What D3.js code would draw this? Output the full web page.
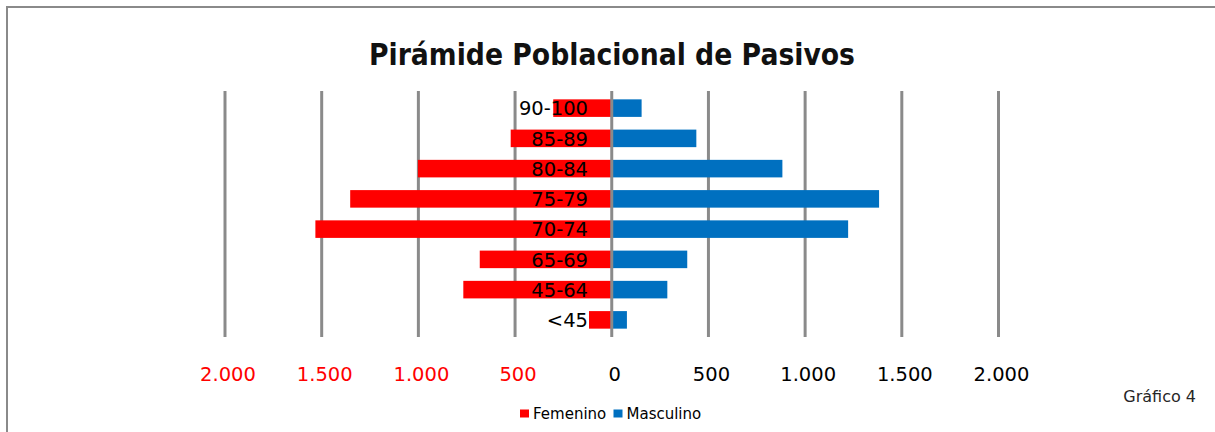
<!DOCTYPE html>
<html>
<head>
<meta charset="utf-8">
<script src="https://cdnjs.cloudflare.com/ajax/libs/d3/7.8.5/d3.min.js"></script>
<style>
  html, body { margin: 0; padding: 0; background: #fff; }
  svg { display: block; }
</style>
</head>
<body>
<script>
// ---- data (top to bottom) ----
const categories = ["90-100", "85-89", "80-84", "75-79", "70-74", "65-69", "45-64", "<45"];
const femenino  = [300, 520, 1000, 1350, 1530, 680, 765, 115];
const masculino = [157, 440, 885, 1385, 1225, 393, 290, 81];
const tickValues = [-2000, -1500, -1000, -500, 0, 500, 1000, 1500, 2000];
const seriesNames = ["Femenino", "Masculino"];
const seriesColors = ["#FF0000", "#0070C0"];
const titleText = "Pirámide Poblacional de Pasivos";
const noteText = "Gráfico 4";

const W = 1215, H = 432;
const svg = d3.select("body").append("svg").attr("width", W).attr("height", H);

// outer frame (top/left visible)
svg.append("rect").attr("x", 7).attr("y", 7).attr("width", W + 20).attr("height", H + 20)
  .attr("fill", "#fff").attr("stroke", "#8a8a8a").attr("stroke-width", 2);

const x = d3.scaleLinear().domain([-2000, 2000]).range([224.5, 998]);
const y = d3.scaleBand().domain(categories).range([93, 335]).paddingInner(0.42).paddingOuter(0.21);

const locale = d3.formatLocale({ decimal: ",", thousands: ".", grouping: [3], currency: ["", ""] });
const fmt = locale.format(",");

// title
svg.append("text").attr("x", 612).attr("y", 65).attr("text-anchor", "middle")
  .attr("font-family", "DejaVu Sans, sans-serif").attr("font-weight", "bold")
  .attr("font-size", 30).attr("fill", "#111")
  .attr("textLength", 486).attr("lengthAdjust", "spacingAndGlyphs")
  .text(titleText);

// gridlines
const grid = svg.append("g").attr("transform", "translate(0,337)")
  .call(d3.axisBottom(x).tickValues(tickValues.filter(d => d !== 0)).tickSize(-246).tickFormat(""));
grid.select(".domain").remove();
grid.selectAll("line").attr("stroke", "#8a8a8a").attr("stroke-width", 3);

// bars
const rows = categories.map((c, i) => ({ c, f: femenino[i], m: masculino[i] }));
svg.append("g").selectAll("rect").data(rows).join("rect")
  .attr("x", d => x(-d.f)).attr("y", d => y(d.c))
  .attr("width", d => x(0) - x(-d.f)).attr("height", y.bandwidth())
  .attr("fill", seriesColors[0]);
svg.append("g").selectAll("rect").data(rows).join("rect")
  .attr("x", x(0)).attr("y", d => y(d.c))
  .attr("width", d => x(d.m) - x(0)).attr("height", y.bandwidth())
  .attr("fill", seriesColors[1]);

// zero line on top
const zero = svg.append("g").attr("transform", "translate(0,337)")
  .call(d3.axisBottom(x).tickValues([0]).tickSize(-246).tickFormat(""));
zero.select(".domain").remove();
zero.selectAll("line").attr("stroke", "#8a8a8a").attr("stroke-width", 3);

// category labels
svg.append("g").selectAll("text").data(categories).join("text")
  .attr("x", 588).attr("y", d => y(d) + y.bandwidth() / 2 + 7.3)
  .attr("text-anchor", "end")
  .attr("font-family", "DejaVu Sans, sans-serif").attr("font-size", 19.5).attr("fill", "#000")
  .text(d => d);

// tick labels
const ax = svg.append("g").attr("transform", "translate(3,366.5)")
  .call(d3.axisBottom(x).tickValues(tickValues).tickSize(0).tickPadding(0).tickFormat(d => fmt(Math.abs(d))));
ax.select(".domain").remove();
ax.selectAll("text")
  .attr("font-family", "DejaVu Sans, sans-serif").attr("font-size", 19.5)
  .attr("dy", "0.73em")
  .attr("fill", d => d < 0 ? "#FF0000" : "#000");

// legend
const lg = svg.append("g");
const legendX = [520, 613.5];
seriesNames.forEach((name, i) => {
  lg.append("rect").attr("x", legendX[i]).attr("y", 409.5).attr("width", 9).attr("height", 8).attr("fill", seriesColors[i]);
  lg.append("text").attr("x", legendX[i] + 13).attr("y", 419)
    .attr("font-family", "DejaVu Sans, sans-serif").attr("font-size", 15).attr("fill", "#000")
    .text(name);
});

// note
svg.append("text").attr("x", 1196).attr("y", 402).attr("text-anchor", "end")
  .attr("font-family", "DejaVu Sans, sans-serif").attr("font-size", 16).attr("fill", "#262626")
  .text(noteText);
</script>
</body>
</html>
